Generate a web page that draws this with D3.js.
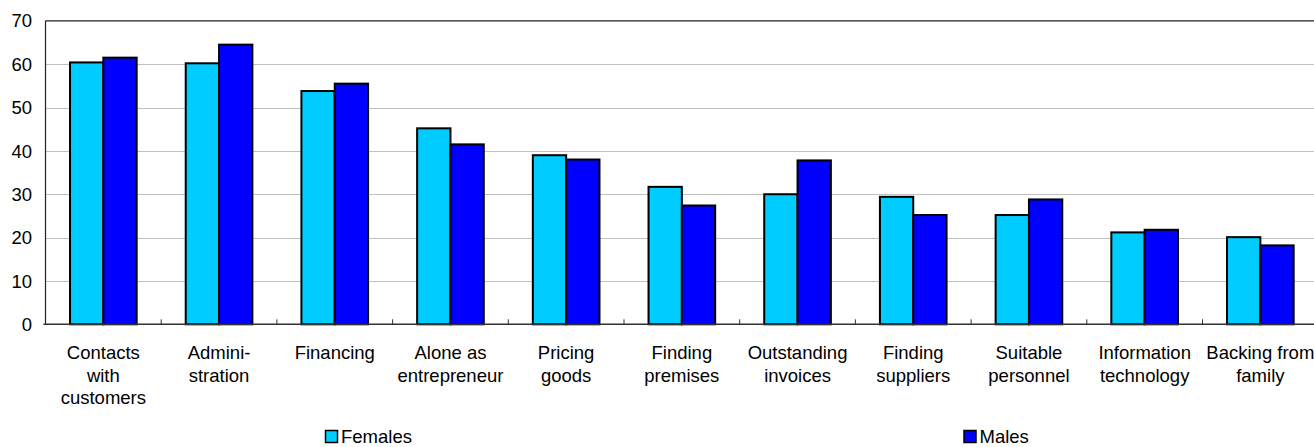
<!DOCTYPE html>
<html>
<head>
<meta charset="utf-8">
<script src="https://cdn.jsdelivr.net/npm/d3@7"></script>
<style>
html,body{margin:0;padding:0;background:#fff;}
svg{display:block;}
text{font-family:"Liberation Sans",Arial,sans-serif;fill:#000;}
</style>
</head>
<body>
<svg id="chart" width="1314" height="447"></svg>
<script>
const categories = [
  ["Contacts","with","customers"],
  ["Admini-","stration"],
  ["Financing"],
  ["Alone as","entrepreneur"],
  ["Pricing","goods"],
  ["Finding","premises"],
  ["Outstanding","invoices"],
  ["Finding","suppliers"],
  ["Suitable","personnel"],
  ["Information","technology"],
  ["Backing from","family"]
];
const females = [60.4, 60.2, 53.8, 45.2, 39.0, 31.7, 30.0, 29.4, 25.2, 21.2, 20.1];
const males   = [61.5, 64.5, 55.5, 41.5, 38.0, 27.4, 37.8, 25.2, 28.8, 21.8, 18.2];
const seriesNames = ["Females", "Males"];
const seriesColors = ["#00ccff", "#0000ff"];
const yTicks = [0, 10, 20, 30, 40, 50, 60, 70];

const svg = d3.select("#chart");
const plotLeft = 45.5, plotTop = 20.8, plotBottom = 324.3;
const step = 115.7;
const plotRight = plotLeft + step * categories.length;
const keys = categories.map((c, i) => "c" + i);

const x = d3.scaleBand().domain(keys).range([plotLeft, plotRight]).paddingInner(0.424).paddingOuter(0.212);
const xs = d3.scaleBand().domain(seriesNames).range([0, x.bandwidth()]);
const y = d3.scaleLinear().domain([0, 70]).range([plotBottom, plotTop]);
const fontSize = 18.5;

// gridlines
svg.append("g").selectAll("line").data(yTicks.filter(t => t > 0 && t < 70)).join("line")
  .attr("x1", plotLeft).attr("x2", 1314)
  .attr("y1", d => Math.round(y(d)) + 0.5).attr("y2", d => Math.round(y(d)) + 0.5)
  .attr("stroke", "#c0c0c0").attr("stroke-width", 1);

// top frame line
svg.append("line").attr("x1", plotLeft).attr("x2", 1314).attr("y1", y(70)).attr("y2", y(70))
  .attr("stroke", "#222").attr("stroke-width", 1.2);

// bars
const data = keys.map((k, i) => ({k, vals: [females[i], males[i]]}));
const groups = svg.append("g").selectAll("g").data(data).join("g")
  .attr("transform", d => `translate(${x(d.k)},0)`);
groups.selectAll("rect").data(d => d.vals.map((v, j) => ({v, j}))).join("rect")
  .attr("x", d => xs(seriesNames[d.j]))
  .attr("width", xs.bandwidth())
  .attr("y", d => y(d.v))
  .attr("height", d => y(0) - y(d.v))
  .attr("fill", d => seriesColors[d.j])
  .attr("stroke", "#000").attr("stroke-width", 2);

// x axis line and inward ticks at category boundaries
svg.append("line").attr("x1", plotLeft - 2).attr("x2", 1314).attr("y1", plotBottom).attr("y2", plotBottom)
  .attr("stroke", "#333").attr("stroke-width", 1.5);
const bounds = d3.range(1, categories.length).map(i => plotLeft + i * step);
svg.append("g").selectAll("line").data(bounds).join("line")
  .attr("x1", d => d).attr("x2", d => d).attr("y1", plotBottom).attr("y2", plotBottom - 5)
  .attr("stroke", "#333").attr("stroke-width", 1);

// y axis
svg.append("line").attr("x1", plotLeft).attr("x2", plotLeft).attr("y1", plotTop).attr("y2", plotBottom)
  .attr("stroke", "#222").attr("stroke-width", 1.2);
svg.append("g").selectAll("text").data(yTicks).join("text")
  .attr("x", 32).attr("y", d => y(d)).attr("dy", "0.36em")
  .attr("text-anchor", "end").attr("font-size", fontSize)
  .text(d => d);

// category labels
const lab = svg.append("g").selectAll("text").data(data).join("text")
  .attr("text-anchor", "middle").attr("font-size", fontSize)
  .attr("x", d => x(d.k) + x.bandwidth() / 2).attr("y", 359);
lab.selectAll("tspan").data((d, i) => categories[i]).join("tspan")
  .attr("x", function() { return this.parentNode.getAttribute("x"); })
  .attr("dy", (d, i) => i === 0 ? 0 : 22.7)
  .text(d => d);

// legend
const legendX = [325, 963.5];
const lg = svg.append("g").selectAll("g").data(seriesNames).join("g")
  .attr("transform", (d, i) => `translate(${legendX[i]},0)`);
lg.append("rect").attr("x", 0.5).attr("y", 430.5).attr("width", 12).attr("height", 12)
  .attr("fill", (d, i) => seriesColors[i]).attr("stroke", "#000").attr("stroke-width", 1.5);
lg.append("text").attr("x", 16).attr("y", 443).attr("font-size", fontSize).text(d => d);
</script>
</body>
</html>
